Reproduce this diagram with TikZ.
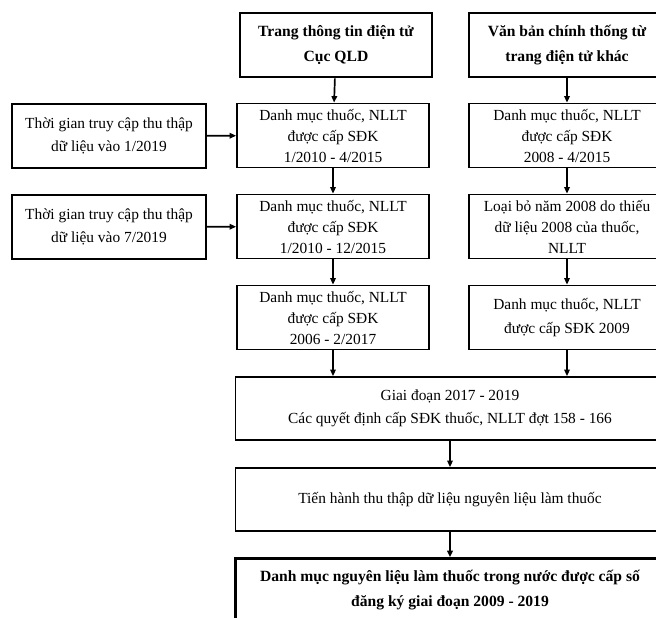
\documentclass[tikz,border=0pt]{standalone}
\usepackage{fontspec}
\setmainfont{Liberation Serif}
\usetikzlibrary{arrows.meta}

\begin{document}
\begin{tikzpicture}[x=1pt,y=-1pt,
    khung/.style={draw,line width=1.8pt,minimum height=64pt,align=center,
      font=\fontsize{15.4}{21}\selectfont},
    thua/.style={khung,font=\fontsize{15.4}{23.5}\selectfont},
    dam/.style={khung,line width=2.6pt,font=\fontsize{15.6}{25}\selectfont\bfseries},
    muiten/.style={->,line width=1.7pt},
    >={Triangle[length=6.5pt,width=5.5pt]}]
  % Khung hinh (cat o mep phai va mep duoi)
  \clip (0,0) rectangle (656,618);

  % Nguon du lieu
  \node[dam,minimum width=192pt] (cqld) at (336,45) {Trang thông tin điện tử\\Cục QLD};
  \node[dam,minimum width=196pt] (vban) at (567,45) {Văn bản chính thống từ\\trang điện tử khác};

  % Thoi gian truy cap
  \node[thua,minimum width=194pt] (tg1) at (109,136) {Thời gian truy cập thu thập\\dữ liệu vào 1/2019};
  \node[thua,minimum width=194pt] (tg2) at (109,227) {Thời gian truy cập thu thập\\dữ liệu vào 7/2019};

  % Cot giua
  \node[khung,minimum width=192pt] (dm1) at (333,135.5) {Danh mục thuốc, NLLT\\được cấp SĐK\\1/2010 - 4/2015};
  \node[khung,minimum width=192pt] (dm2) at (333,226.5) {Danh mục thuốc, NLLT\\được cấp SĐK\\1/2010 - 12/2015};
  \node[khung,minimum width=192pt] (dm3) at (333,317.5) {Danh mục thuốc, NLLT\\được cấp SĐK\\2006 - 2/2017};

  % Cot phai
  \node[khung,minimum width=196pt] (vb1) at (567,135.5) {Danh mục thuốc, NLLT\\được cấp SĐK\\2008 - 4/2015};
  \node[khung,minimum width=196pt] (vb2) at (567,226.5) {Loại bỏ năm 2008 do thiếu\\dữ liệu 2008 của thuốc,\\NLLT};
  \node[thua,minimum width=196pt] (vb3) at (567,317.5) {Danh mục thuốc, NLLT\\được cấp SĐK 2009};

  % Cac buoc chung
  \node[thua,minimum width=429pt,minimum height=63pt] (gd) at (450,408.5) {Giai đoạn 2017 - 2019\\Các quyết định cấp SĐK thuốc, NLLT đợt 158 - 166};
  \node[khung,minimum width=429pt,minimum height=63pt] (th) at (450,499.5) {Tiến hành thu thập dữ liệu nguyên liệu làm thuốc};
  \node[dam,minimum width=429pt,minimum height=63pt] (kq) at (450,590) {Danh mục nguyên liệu làm thuốc trong nước được cấp số\\đăng ký giai đoạn 2009 - 2019};

  % Mui ten
  \draw[muiten] (cqld) -- (dm1);
  \draw[muiten] (dm1) -- (dm2);
  \draw[muiten] (dm2) -- (dm3);
  \draw[muiten] (tg1) -- (dm1);
  \draw[muiten] (tg2) -- (dm2);
  \draw[muiten] (vban) -- (vb1);
  \draw[muiten] (vb1) -- (vb2);
  \draw[muiten] (vb2) -- (vb3);
  \draw[muiten] (dm3.south) -- (dm3.south |- gd.north);
  \draw[muiten] (vb3.south) -- (vb3.south |- gd.north);
  \draw[muiten] (gd) -- (th);
  \draw[muiten] (th) -- (kq);
\end{tikzpicture}
\end{document}
